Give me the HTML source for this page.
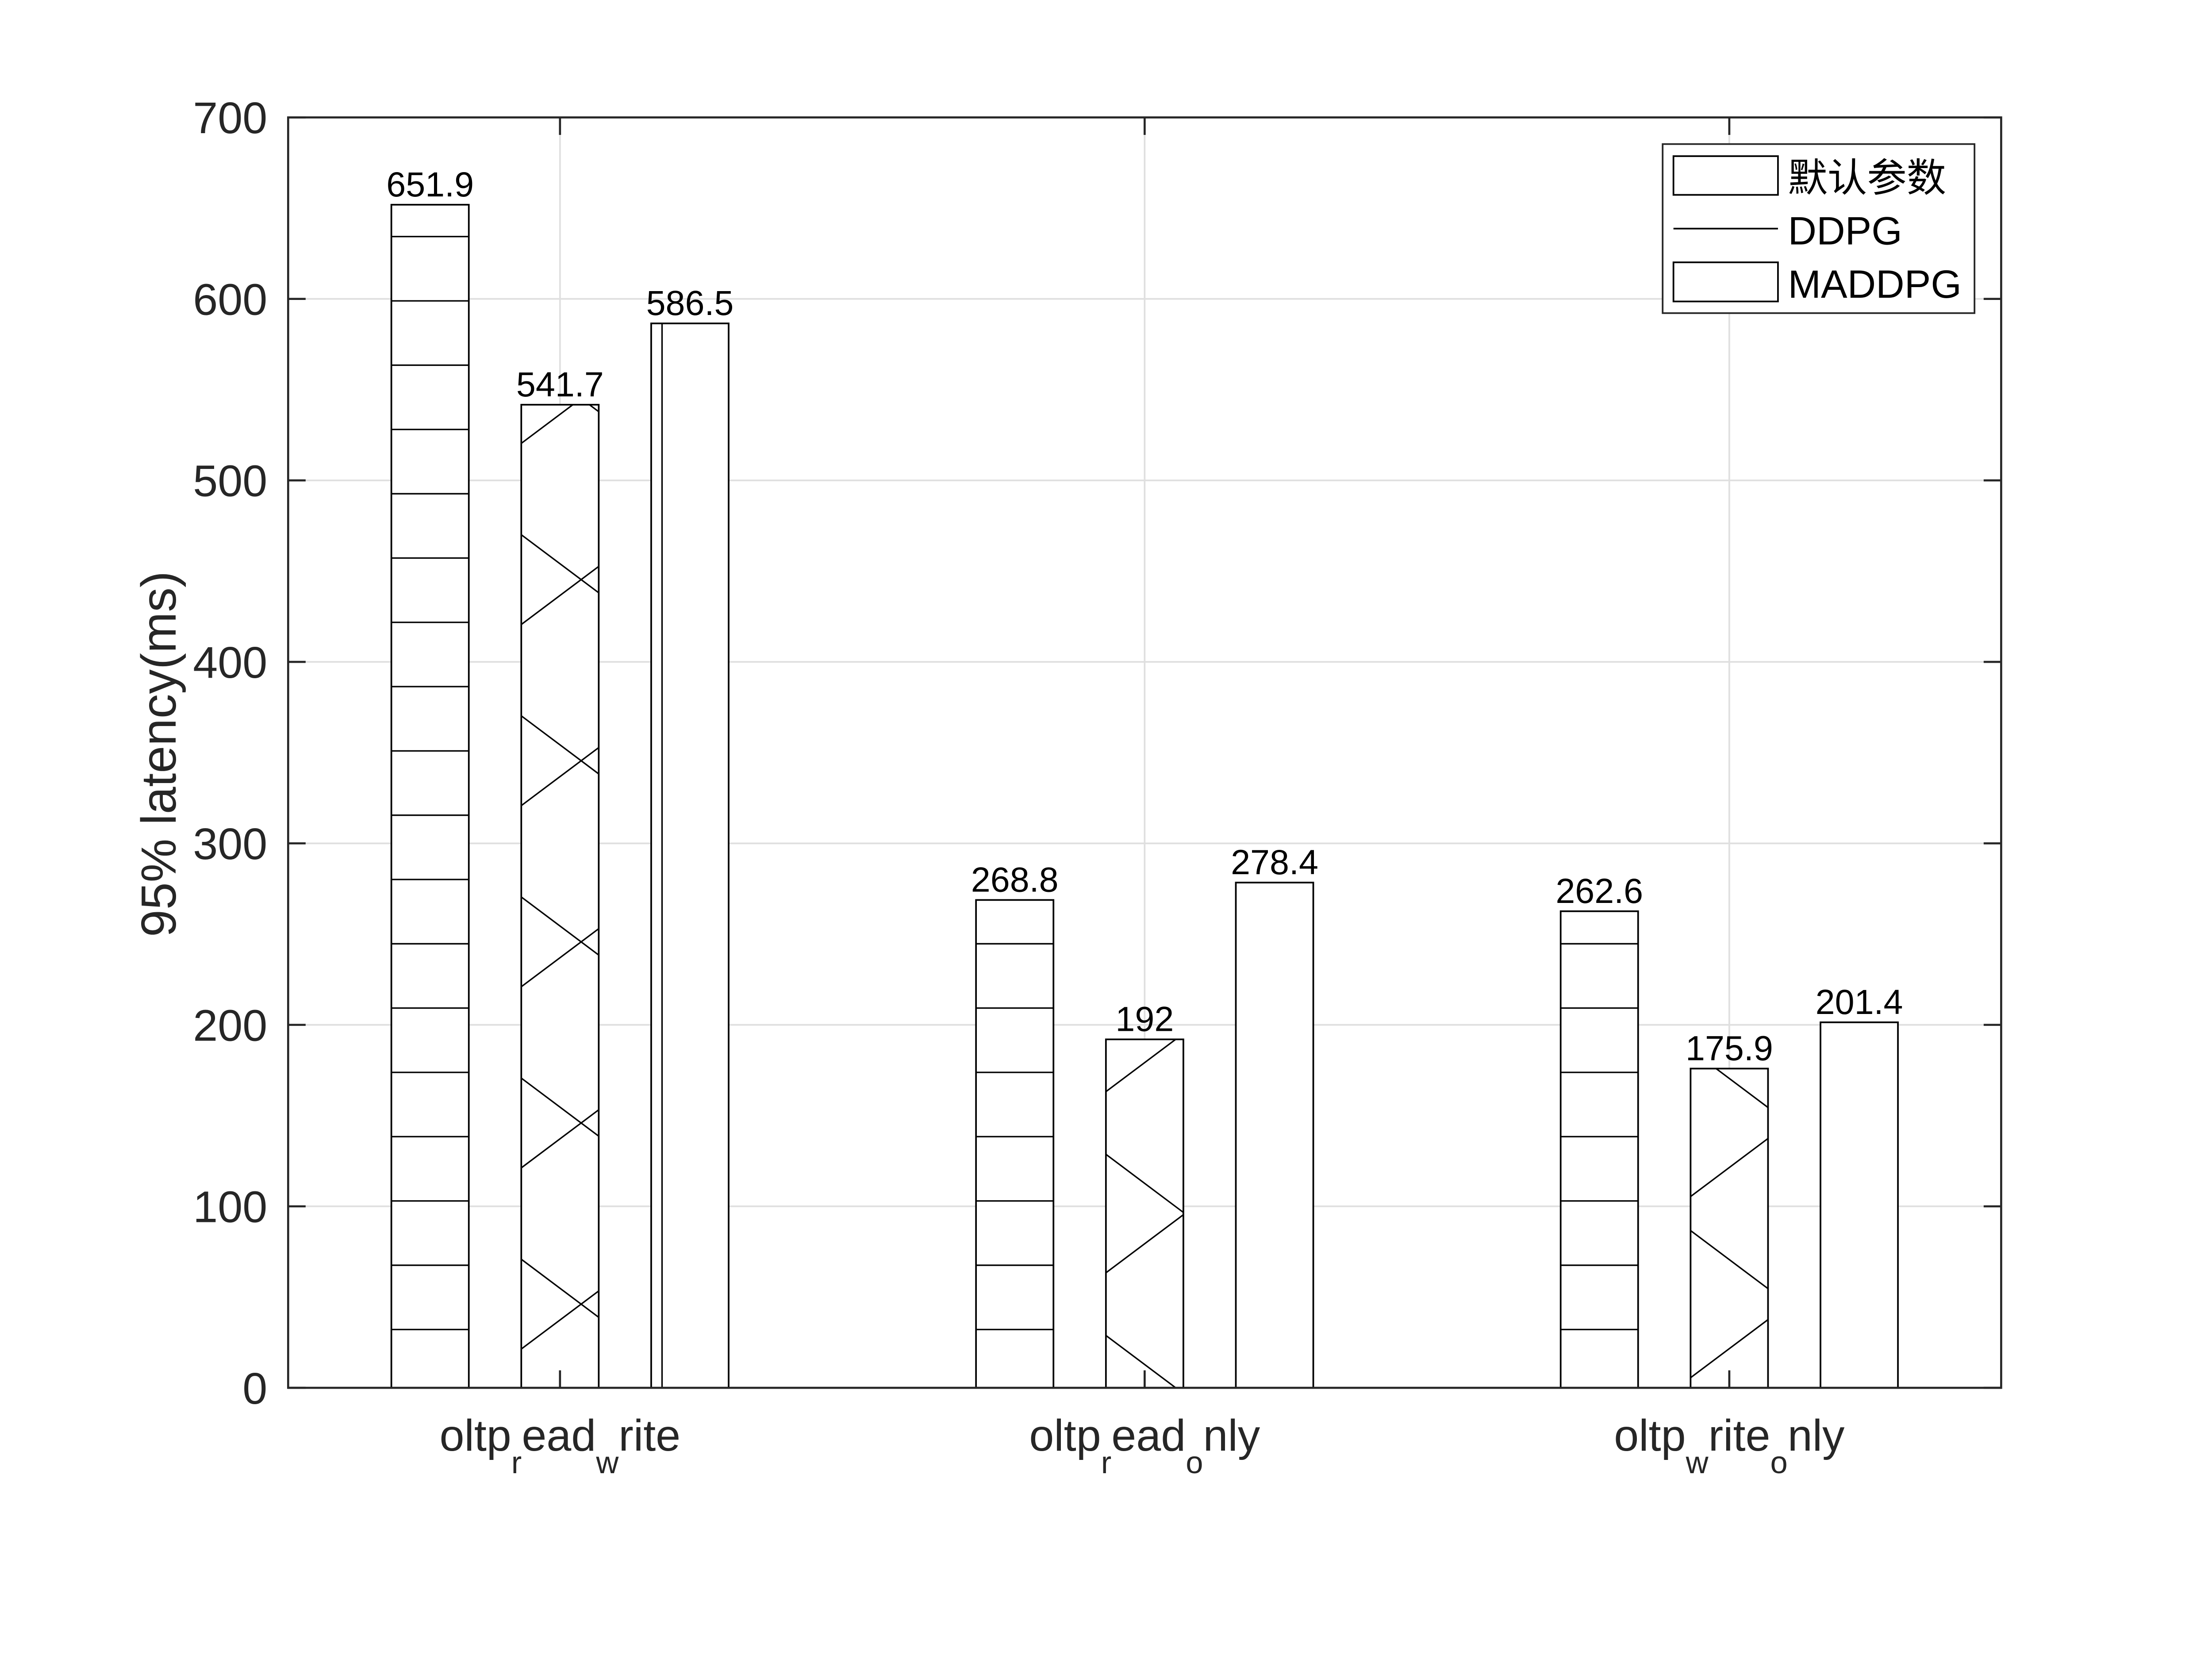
<!DOCTYPE html>
<html><head><meta charset="utf-8"><style>
html,body{margin:0;padding:0;background:#fff;overflow:hidden;width:5313px;height:3750px;}
svg{display:block;}
text{font-family:"Liberation Sans",Arial,sans-serif;}
</style></head><body>
<svg id="chart" width="5313" height="3750" viewBox="0 0 5313 3750" xmlns="http://www.w3.org/2000/svg">
<rect width="5313" height="3750" fill="#fff"/>
<g transform="scale(0.9412)">
<g id="grid"></g>
<g id="bars"></g>
<g id="axes"></g>
<text transform="translate(422,1811) rotate(-90)" text-anchor="middle" font-size="118" fill="#262626">95% latency(ms)</text>
<g>
  <rect x="3993" y="346" width="749" height="406" fill="#fff" stroke="#262626" stroke-width="4"/>
  <g>
    <rect x="4019" y="375" width="251" height="93" fill="#fff" stroke="#000" stroke-width="4"/>
    <text x="4294" y="460" font-size="95" font-family="'Liberation Serif','Noto Serif CJK SC',serif" fill="#000">默认参数</text>
  </g>
  <g>
    <line x1="4019" y1="549" x2="4270" y2="549" stroke="#000" stroke-width="4"/>
    <text x="4294" y="587" font-size="95" fill="#000">DDPG</text>
  </g>
  <g>
    <rect x="4019" y="630" width="251" height="94" fill="#fff" stroke="#000" stroke-width="4"/>
    <text x="4294" y="715" font-size="95" fill="#000">MADDPG</text>
  </g>
</g>
</g>
</svg>
<script>
const categories = ["oltp_read_write", "oltp_read_only", "oltp_write_only"];
const catMain = [["oltp","ead","rite"],["oltp","ead","nly"],["oltp","rite","nly"]];
const catSubs = [["r","w"],["r","o"],["w","o"]];
const seriesNames = ["默认参数", "DDPG", "MADDPG"];
const defaultVals = [651.9, 268.8, 262.6];
const ddpgVals = [541.7, 192, 175.9];
const maddpgVals = [586.5, 278.4, 201.4];
const valueLabels = [["651.9","541.7","586.5"],["268.8","192","278.4"],["262.6","175.9","201.4"]];
const yTicks = [0, 100, 200, 300, 400, 500, 600, 700];

const NS = "http://www.w3.org/2000/svg";
const L = 692, R = 4806, T = 282, B = 3333;
const yMin = 0, yMax = 700, xMin = 0.535, xMax = 3.465;
function yS(v){ return B - (v - yMin) / (yMax - yMin) * (B - T); }
function xS(i){ return L + ((i + 1) - xMin) / (xMax - xMin) * (R - L); }
function mk(tag, attrs, parent){
  const e = document.createElementNS(NS, tag);
  for (const k in attrs) e.setAttribute(k, attrs[k]);
  parent.appendChild(e); return e;
}
const grid = document.getElementById("grid");
const bars = document.getElementById("bars");
const axes = document.getElementById("axes");
const svg = document.getElementById("chart");
const defs = mk("defs", {}, svg);

yTicks.forEach(function(t){
  const g = mk("line", {x1:L, x2:R, y1:yS(t), y2:yS(t), stroke:"#dfdfdf", "stroke-width":4}, grid);
  
  
});
categories.forEach(function(c, i){
  const g = mk("line", {x1:xS(i), x2:xS(i), y1:T, y2:B, stroke:"#dfdfdf", "stroke-width":4}, grid);
  
  
});

const barW = 186, off = 312, slope = 0.75, period = 435;
const allVals = [defaultVals, ddpgVals, maddpgVals];
categories.forEach(function(c, i){
  for (let s = 0; s < 3; s++) {
    const v = allVals[s][i];
    const cx = xS(i) + (s - 1) * off;
    const x0 = cx - barW / 2, x1 = cx + barW / 2, yt = yS(v);
    const grp = mk("g", {}, bars);
    
    
    mk("rect", {x:x0, y:yt, width:barW, height:B - yt, fill:"#fff"}, grp);
    const cid = "clip" + i + "_" + s;
    const cp = mk("clipPath", {id:cid}, defs);
    mk("rect", {x:x0, y:yt, width:barW, height:B - yt}, cp);
    const hatch = mk("g", {"clip-path":"url(#" + cid + ")", stroke:"#000", "stroke-width":3.5}, grp);
    if (s === 0) {
      for (let y = 3193; y > yt; y -= 154.4) {
        mk("line", {x1:x0, x2:x1, y1:y, y2:y}, hatch);
      }
    } else if (s === 1) {
      for (let n = -12; n <= 12; n++) {
        const ya = 3239 - slope * (x0 - 1253) + n * period;
        mk("line", {x1:x0, y1:ya, x2:x1, y2:ya - slope * barW}, hatch);
        const yb = 3025 + slope * (x0 - 1253) + n * period;
        mk("line", {x1:x0, y1:yb, x2:x1, y2:yb + slope * barW}, hatch);
      }
    } else {
      for (let xv = 1590; xv < R; xv += 1250) {
        if (xv > x0 && xv < x1) mk("line", {x1:xv, x2:xv, y1:yt, y2:B}, hatch);
      }
    }
    mk("rect", {x:x0, y:yt, width:barW, height:B - yt, fill:"none", stroke:"#000", "stroke-width":4}, grp);
    const lbl = mk("text", {x:cx, y:yt - 20, "text-anchor":"middle", "font-size":84, fill:"#000"}, bars);
    lbl.textContent = valueLabels[i][s];
    
    
  }
});

const box = mk("rect", {x:L, y:T, width:R - L, height:B - T, fill:"none", stroke:"#262626", "stroke-width":5}, axes);


yTicks.forEach(function(t){
  const y = yS(t);
  mk("line", {x1:L, x2:L + 42, y1:y, y2:y, stroke:"#262626", "stroke-width":5}, axes);
  mk("line", {x1:R, x2:R - 42, y1:y, y2:y, stroke:"#262626", "stroke-width":5}, axes);
  const tl = mk("text", {x:642, y:y + 38, "text-anchor":"end", "font-size":107, fill:"#262626"}, axes);
  tl.textContent = String(t);
  
  
});
categories.forEach(function(c, i){
  const x = xS(i);
  mk("line", {x1:x, x2:x, y1:T, y2:T + 42, stroke:"#262626", "stroke-width":5}, axes);
  mk("line", {x1:x, x2:x, y1:B, y2:B - 42, stroke:"#262626", "stroke-width":5}, axes);
  const tl = mk("text", {x:x, y:3484, "text-anchor":"middle", "font-size":107, fill:"#262626"}, axes);
  
  
  const m = catMain[i], sb = catSubs[i];
  const parts = [[m[0],0],[sb[0],1],[m[1],0],[sb[1],1],[m[2],0]];
  parts.forEach(function(p){
    const ts = mk("tspan", {}, tl);
    if (p[1]) { ts.setAttribute("font-size", "75"); ts.setAttribute("dy", "54"); }
    else if (tl.childNodes.length > 1) { ts.setAttribute("dy", "-54"); }
    ts.textContent = p[0];
  });
});
</script>
</body></html>
